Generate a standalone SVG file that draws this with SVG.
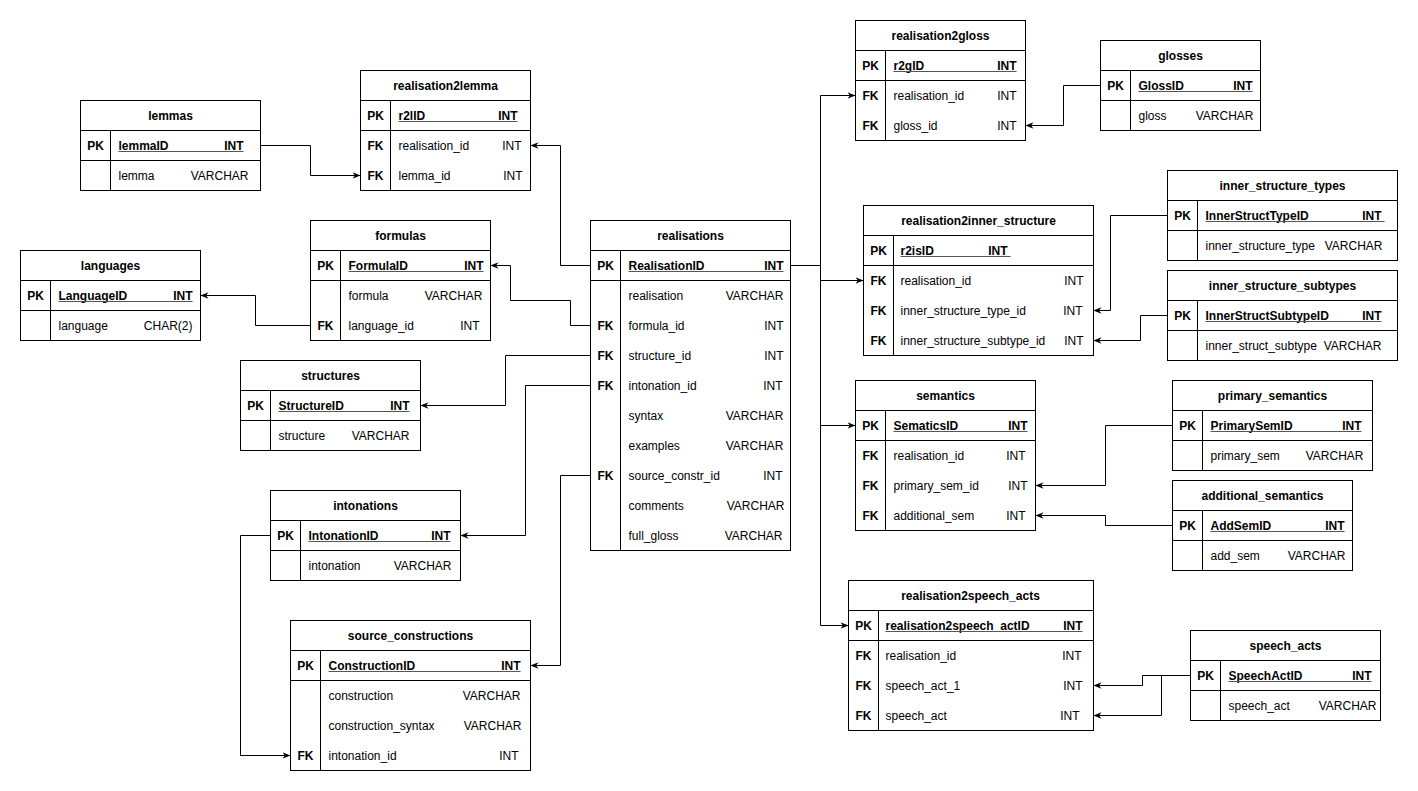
<svg xmlns="http://www.w3.org/2000/svg" width="1418" height="791" viewBox="0 0 1418 791">
<style>
.t{fill:#fff;stroke:#000;stroke-width:1}
.l{stroke:#000;stroke-width:1}
.u{stroke:#555;stroke-width:1}
text{font-family:"Liberation Sans",Arial,Helvetica,sans-serif;font-size:12px;fill:#000}
.h{font-weight:bold;text-anchor:middle}
.k{font-weight:bold;text-anchor:middle}
.p{font-weight:bold}
.e{text-anchor:end}
.c{fill:none;stroke:#000;stroke-width:1}
</style>
<defs>
<marker id="arr" viewBox="0 0 10 10" refX="10" refY="5" markerWidth="8" markerHeight="8" orient="auto" markerUnits="userSpaceOnUse"><path d="M0,1 L10,5 L0,9 L3,5 z" fill="#000"/></marker>
</defs>
<rect x="0" y="0" width="1418" height="791" fill="#fff"/>
<g transform="translate(0.5,0.5)">
<g id="connectors">
<polyline class="c" marker-end="url(#arr)" points="260,145 310,145 310,175 360,175"/>
<polyline class="c" marker-end="url(#arr)" points="590,265 560,265 560,145 530,145"/>
<polyline class="c" marker-end="url(#arr)" points="590,325 570,325 570,300 510,300 510,265 490,265"/>
<polyline class="c" marker-end="url(#arr)" points="310,325 255,325 255,295 200,295"/>
<polyline class="c" marker-end="url(#arr)" points="590,355 505,355 505,405 420,405"/>
<polyline class="c" marker-end="url(#arr)" points="590,385 525,385 525,535 460,535"/>
<polyline class="c" marker-end="url(#arr)" points="590,475 560,475 560,665 530,665"/>
<polyline class="c" marker-end="url(#arr)" points="270,535 240,535 240,755 290,755"/>
<polyline class="c" marker-end="url(#arr)" points="790,265 820,265 820,95 855,95"/>
<polyline class="c" marker-end="url(#arr)" points="790,265 820,265 820,280 863,280"/>
<polyline class="c" marker-end="url(#arr)" points="790,265 820,265 820,425 855,425"/>
<polyline class="c" marker-end="url(#arr)" points="790,265 820,265 820,625 848,625"/>
<polyline class="c" marker-end="url(#arr)" points="1100,85 1063,85 1063,125 1025,125"/>
<polyline class="c" marker-end="url(#arr)" points="1167,215 1110,215 1110,310 1093,310"/>
<polyline class="c" marker-end="url(#arr)" points="1167,315 1140,315 1140,340 1093,340"/>
<polyline class="c" marker-end="url(#arr)" points="1172,425 1105,425 1105,485 1035,485"/>
<polyline class="c" marker-end="url(#arr)" points="1172,525 1105,525 1105,515 1035,515"/>
<polyline class="c" marker-end="url(#arr)" points="1190,675 1142,675 1142,685 1093,685"/>
<polyline class="c" marker-end="url(#arr)" points="1190,675 1161,675 1161,715 1093,715"/>
</g>

<g id="lemmas">
<rect class="t" x="80" y="100" width="180" height="90"/>
<line class="l" x1="80" y1="130" x2="260" y2="130"/><line class="l" x1="80" y1="160" x2="260" y2="160"/><line class="l" x1="110" y1="130" x2="110" y2="190"/>
<text class="h" x="170" y="119">lemmas</text>
<text class="k" x="95" y="149">PK</text><text class="p" x="118" y="149">lemmaID</text><text class="p e" x="243" y="149">INT</text><line class="u" x1="118" y1="151" x2="243" y2="151"/>
<text x="118" y="179">lemma</text><text class="e" x="248" y="179">VARCHAR</text>
</g>

<g id="realisation2lemma">
<rect class="t" x="360" y="70" width="170" height="120"/>
<line class="l" x1="360" y1="100" x2="530" y2="100"/><line class="l" x1="360" y1="130" x2="530" y2="130"/><line class="l" x1="390" y1="100" x2="390" y2="190"/>
<text class="h" x="445" y="89">realisation2lemma</text>
<text class="k" x="375" y="119">PK</text><text class="p" x="398" y="119">r2lID</text><text class="p e" x="517" y="119">INT</text><line class="u" x1="398" y1="121" x2="517" y2="121"/>
<text class="k" x="375" y="149">FK</text><text x="398" y="149">realisation_id</text><text class="e" x="521" y="149">INT</text>
<text class="k" x="375" y="179">FK</text><text x="398" y="179">lemma_id</text><text class="e" x="522" y="179">INT</text>
</g>

<g id="languages">
<rect class="t" x="20" y="250" width="180" height="90"/>
<line class="l" x1="20" y1="280" x2="200" y2="280"/><line class="l" x1="20" y1="310" x2="200" y2="310"/><line class="l" x1="50" y1="280" x2="50" y2="340"/>
<text class="h" x="110" y="269">languages</text>
<text class="k" x="35" y="299">PK</text><text class="p" x="58" y="299">LanguageID</text><text class="p e" x="192" y="299">INT</text><line class="u" x1="58" y1="301" x2="192" y2="301"/>
<text x="58" y="329">language</text><text class="e" x="192" y="329">CHAR(2)</text>
</g>

<g id="formulas">
<rect class="t" x="310" y="220" width="180" height="120"/>
<line class="l" x1="310" y1="250" x2="490" y2="250"/><line class="l" x1="310" y1="280" x2="490" y2="280"/><line class="l" x1="340" y1="250" x2="340" y2="340"/>
<text class="h" x="400" y="239">formulas</text>
<text class="k" x="325" y="269">PK</text><text class="p" x="348" y="269">FormulaID</text><text class="p e" x="483" y="269">INT</text><line class="u" x1="348" y1="271" x2="483" y2="271"/>
<text x="348" y="299">formula</text><text class="e" x="482" y="299">VARCHAR</text>
<text class="k" x="325" y="329">FK</text><text x="348" y="329">language_id</text><text class="e" x="479" y="329">INT</text>
</g>

<g id="structures">
<rect class="t" x="240" y="360" width="180" height="90"/>
<line class="l" x1="240" y1="390" x2="420" y2="390"/><line class="l" x1="240" y1="420" x2="420" y2="420"/><line class="l" x1="270" y1="390" x2="270" y2="450"/>
<text class="h" x="330" y="379">structures</text>
<text class="k" x="255" y="409">PK</text><text class="p" x="278" y="409">StructureID</text><text class="p e" x="409" y="409">INT</text><line class="u" x1="278" y1="411" x2="409" y2="411"/>
<text x="278" y="439">structure</text><text class="e" x="409" y="439">VARCHAR</text>
</g>

<g id="intonations">
<rect class="t" x="270" y="490" width="190" height="90"/>
<line class="l" x1="270" y1="520" x2="460" y2="520"/><line class="l" x1="270" y1="550" x2="460" y2="550"/><line class="l" x1="300" y1="520" x2="300" y2="580"/>
<text class="h" x="365" y="509">intonations</text>
<text class="k" x="285" y="539">PK</text><text class="p" x="308" y="539">IntonationID</text><text class="p e" x="450" y="539">INT</text><line class="u" x1="308" y1="541" x2="450" y2="541"/>
<text x="308" y="569">intonation</text><text class="e" x="451" y="569">VARCHAR</text>
</g>

<g id="source_constructions">
<rect class="t" x="290" y="620" width="240" height="150"/>
<line class="l" x1="290" y1="650" x2="530" y2="650"/><line class="l" x1="290" y1="680" x2="530" y2="680"/><line class="l" x1="320" y1="650" x2="320" y2="770"/>
<text class="h" x="410" y="639">source_constructions</text>
<text class="k" x="305" y="669">PK</text><text class="p" x="328" y="669">ConstructionID</text><text class="p e" x="520" y="669">INT</text><line class="u" x1="328" y1="671" x2="520" y2="671"/>
<text x="328" y="699">construction</text><text class="e" x="520" y="699">VARCHAR</text>
<text x="328" y="729">construction_syntax</text><text class="e" x="521" y="729">VARCHAR</text>
<text class="k" x="305" y="759">FK</text><text x="328" y="759">intonation_id</text><text class="e" x="518" y="759">INT</text>
</g>

<g id="realisations">
<rect class="t" x="590" y="220" width="200" height="330"/>
<line class="l" x1="590" y1="250" x2="790" y2="250"/><line class="l" x1="590" y1="280" x2="790" y2="280"/><line class="l" x1="620" y1="250" x2="620" y2="550"/>
<text class="h" x="690" y="239">realisations</text>
<text class="k" x="605" y="269">PK</text><text class="p" x="628" y="269">RealisationID</text><text class="p e" x="783" y="269">INT</text><line class="u" x1="628" y1="271" x2="783" y2="271"/>
<text x="628" y="299">realisation</text><text class="e" x="783" y="299">VARCHAR</text>
<text class="k" x="605" y="329">FK</text><text x="628" y="329">formula_id</text><text class="e" x="783" y="329">INT</text>
<text class="k" x="605" y="359">FK</text><text x="628" y="359">structure_id</text><text class="e" x="783" y="359">INT</text>
<text class="k" x="605" y="389">FK</text><text x="628" y="389">intonation_id</text><text class="e" x="782" y="389">INT</text>
<text x="628" y="419">syntax</text><text class="e" x="783" y="419">VARCHAR</text>
<text x="628" y="449">examples</text><text class="e" x="783" y="449">VARCHAR</text>
<text class="k" x="605" y="479">FK</text><text x="628" y="479">source_constr_id</text><text class="e" x="782" y="479">INT</text>
<text x="628" y="509">comments</text><text class="e" x="784" y="509">VARCHAR</text>
<text x="628" y="539">full_gloss</text><text class="e" x="782" y="539">VARCHAR</text>
</g>

<g id="realisation2gloss">
<rect class="t" x="855" y="20" width="170" height="120"/>
<line class="l" x1="855" y1="50" x2="1025" y2="50"/><line class="l" x1="855" y1="80" x2="1025" y2="80"/><line class="l" x1="885" y1="50" x2="885" y2="140"/>
<text class="h" x="940" y="39">realisation2gloss</text>
<text class="k" x="870" y="69">PK</text><text class="p" x="893" y="69">r2gID</text><text class="p e" x="1016" y="69">INT</text><line class="u" x1="893" y1="71" x2="1016" y2="71"/>
<text class="k" x="870" y="99">FK</text><text x="893" y="99">realisation_id</text><text class="e" x="1016" y="99">INT</text>
<text class="k" x="870" y="129">FK</text><text x="893" y="129">gloss_id</text><text class="e" x="1016" y="129">INT</text>
</g>

<g id="glosses">
<rect class="t" x="1100" y="40" width="160" height="90"/>
<line class="l" x1="1100" y1="70" x2="1260" y2="70"/><line class="l" x1="1100" y1="100" x2="1260" y2="100"/><line class="l" x1="1130" y1="70" x2="1130" y2="130"/>
<text class="h" x="1180" y="59">glosses</text>
<text class="k" x="1115" y="89">PK</text><text class="p" x="1138" y="89">GlossID</text><text class="p e" x="1252" y="89">INT</text><line class="u" x1="1138" y1="91" x2="1252" y2="91"/>
<text x="1138" y="119">gloss</text><text class="e" x="1253" y="119">VARCHAR</text>
</g>

<g id="realisation2inner_structure">
<rect class="t" x="863" y="205" width="230" height="150"/>
<line class="l" x1="863" y1="235" x2="1093" y2="235"/><line class="l" x1="863" y1="265" x2="1093" y2="265"/><line class="l" x1="893" y1="235" x2="893" y2="355"/>
<text class="h" x="978" y="224">realisation2inner_structure</text>
<text class="k" x="878" y="254">PK</text><text class="p" x="900" y="254">r2isID</text><text class="p e" x="1007" y="254">INT</text><line class="u" x1="900" y1="256" x2="1010" y2="256"/>
<text class="k" x="878" y="284">FK</text><text x="900" y="284">realisation_id</text><text class="e" x="1083" y="284">INT</text>
<text class="k" x="878" y="314">FK</text><text x="900" y="314">inner_structure_type_id</text><text class="e" x="1082" y="314">INT</text>
<text class="k" x="878" y="344">FK</text><text x="900" y="344">inner_structure_subtype_id</text><text class="e" x="1083" y="344">INT</text>
</g>

<g id="inner_structure_types">
<rect class="t" x="1167" y="170" width="230" height="90"/>
<line class="l" x1="1167" y1="200" x2="1397" y2="200"/><line class="l" x1="1167" y1="230" x2="1397" y2="230"/><line class="l" x1="1197" y1="200" x2="1197" y2="260"/>
<text class="h" x="1282" y="189">inner_structure_types</text>
<text class="k" x="1182" y="219">PK</text><text class="p" x="1205" y="219">InnerStructTypeID</text><text class="p e" x="1381" y="219">INT</text><line class="u" x1="1205" y1="221" x2="1384" y2="221"/>
<text x="1205" y="249">inner_structure_type</text><text class="e" x="1382" y="249">VARCHAR</text>
</g>

<g id="inner_structure_subtypes">
<rect class="t" x="1167" y="270" width="230" height="90"/>
<line class="l" x1="1167" y1="300" x2="1397" y2="300"/><line class="l" x1="1167" y1="330" x2="1397" y2="330"/><line class="l" x1="1197" y1="300" x2="1197" y2="360"/>
<text class="h" x="1282" y="289">inner_structure_subtypes</text>
<text class="k" x="1182" y="319">PK</text><text class="p" x="1205" y="319">InnerStructSubtypeID</text><text class="p e" x="1381" y="319">INT</text><line class="u" x1="1205" y1="321" x2="1381" y2="321"/>
<text x="1205" y="349">inner_struct_subtype</text><text class="e" x="1381" y="349">VARCHAR</text>
</g>

<g id="semantics">
<rect class="t" x="855" y="380" width="180" height="150"/>
<line class="l" x1="855" y1="410" x2="1035" y2="410"/><line class="l" x1="855" y1="440" x2="1035" y2="440"/><line class="l" x1="885" y1="410" x2="885" y2="530"/>
<text class="h" x="945" y="399">semantics</text>
<text class="k" x="870" y="429">PK</text><text class="p" x="893" y="429">SematicsID</text><text class="p e" x="1027" y="429">INT</text><line class="u" x1="893" y1="431" x2="1027" y2="431"/>
<text class="k" x="870" y="459">FK</text><text x="893" y="459">realisation_id</text><text class="e" x="1025" y="459">INT</text>
<text class="k" x="870" y="489">FK</text><text x="893" y="489">primary_sem_id</text><text class="e" x="1027" y="489">INT</text>
<text class="k" x="870" y="519">FK</text><text x="893" y="519">additional_sem</text><text class="e" x="1025" y="519">INT</text>
</g>

<g id="primary_semantics">
<rect class="t" x="1172" y="380" width="200" height="90"/>
<line class="l" x1="1172" y1="410" x2="1372" y2="410"/><line class="l" x1="1172" y1="440" x2="1372" y2="440"/><line class="l" x1="1202" y1="410" x2="1202" y2="470"/>
<text class="h" x="1272" y="399">primary_semantics</text>
<text class="k" x="1187" y="429">PK</text><text class="p" x="1210" y="429">PrimarySemID</text><text class="p e" x="1361" y="429">INT</text><line class="u" x1="1210" y1="431" x2="1361" y2="431"/>
<text x="1210" y="459">primary_sem</text><text class="e" x="1363" y="459">VARCHAR</text>
</g>

<g id="additional_semantics">
<rect class="t" x="1172" y="480" width="180" height="90"/>
<line class="l" x1="1172" y1="510" x2="1352" y2="510"/><line class="l" x1="1172" y1="540" x2="1352" y2="540"/><line class="l" x1="1202" y1="510" x2="1202" y2="570"/>
<text class="h" x="1262" y="499">additional_semantics</text>
<text class="k" x="1187" y="529">PK</text><text class="p" x="1210" y="529">AddSemID</text><text class="p e" x="1344" y="529">INT</text><line class="u" x1="1210" y1="531" x2="1344" y2="531"/>
<text x="1210" y="559">add_sem</text><text class="e" x="1345" y="559">VARCHAR</text>
</g>

<g id="realisation2speech_acts">
<rect class="t" x="848" y="580" width="245" height="150"/>
<line class="l" x1="848" y1="610" x2="1093" y2="610"/><line class="l" x1="848" y1="640" x2="1093" y2="640"/><line class="l" x1="878" y1="610" x2="878" y2="730"/>
<text class="h" x="970" y="599">realisation2speech_acts</text>
<text class="k" x="863" y="629">PK</text><text class="p" x="885" y="629">realisation2speech_actID</text><text class="p e" x="1082" y="629">INT</text><line class="u" x1="885" y1="631" x2="1082" y2="631"/>
<text class="k" x="863" y="659">FK</text><text x="885" y="659">realisation_id</text><text class="e" x="1081" y="659">INT</text>
<text class="k" x="863" y="689">FK</text><text x="885" y="689">speech_act_1</text><text class="e" x="1082" y="689">INT</text>
<text class="k" x="863" y="719">FK</text><text x="885" y="719">speech_act</text><text class="e" x="1079" y="719">INT</text>
</g>

<g id="speech_acts">
<rect class="t" x="1190" y="630" width="190" height="90"/>
<line class="l" x1="1190" y1="660" x2="1380" y2="660"/><line class="l" x1="1190" y1="690" x2="1380" y2="690"/><line class="l" x1="1220" y1="660" x2="1220" y2="720"/>
<text class="h" x="1285" y="649">speech_acts</text>
<text class="k" x="1205" y="679">PK</text><text class="p" x="1228" y="679">SpeechActID</text><text class="p e" x="1371" y="679">INT</text><line class="u" x1="1228" y1="681" x2="1371" y2="681"/>
<text x="1228" y="709">speech_act</text><text class="e" x="1376" y="709">VARCHAR</text>
</g>
</g>
</svg>
